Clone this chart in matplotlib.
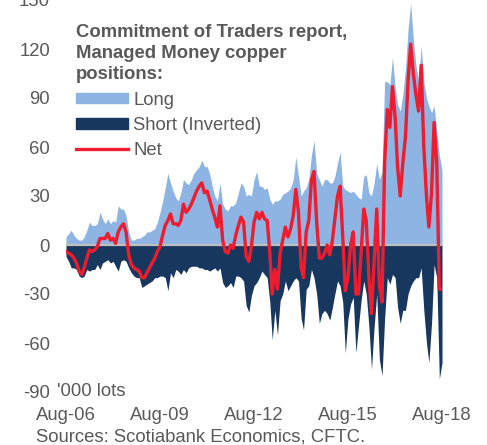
import numpy as np
import pandas as pd
import matplotlib
matplotlib.use('Agg')
from matplotlib import pyplot as plt
from matplotlib import dates as mdates
from matplotlib.patches import Patch
from matplotlib.lines import Line2D
from matplotlib.transforms import blended_transform_factory

# managed money copper positions, '000 lots, monthly Aug-06 .. Aug-18
months = pd.date_range('2006-08-01', '2018-08-01', freq='MS')

long_pos = [
    5, 7, 9, 6, 4, 3, 3, 5, 9, 14,
    12, 12, 13, 20, 16, 13, 16, 13, 15, 14,
    24, 22, 22, 18, 8, 3, 3, 4, 4, 5,
    6, 8, 8, 9, 10, 14, 20, 27, 35, 44,
    38, 33, 29, 27, 32, 40, 38, 37, 40, 44,
    46, 48, 52, 48, 48, 44, 36, 30, 27, 38,
    25, 22, 21, 24, 24, 26, 32, 38, 36, 30,
    31, 30, 40, 45, 36, 36, 34, 35, 28, 25,
    27, 27, 28, 31, 32, 33, 35, 40, 54, 42,
    30, 33, 35, 40, 55, 64, 44, 40, 36, 40,
    40, 38, 38, 42, 50, 57, 36, 34, 33, 32,
    33, 31, 29, 28, 42, 43, 32, 30, 38, 50,
    40, 45, 100, 100, 98, 115, 96, 86, 82, 92,
    108, 132, 148, 126, 110, 100, 122, 100, 90, 85,
    81, 85, 70, 55, 46,
]

short_pos = [
    -7, -10, -14, -14, -15, -19, -20, -19, -15, -16,
    -15, -15, -12, -15, -11, -10, -9, -11, -10, -13,
    -16, -10, -9, -10, -14, -17, -19, -20, -20, -26,
    -25, -24, -23, -22, -20, -20, -19, -19, -20, -28,
    -17, -20, -15, -16, -18, -15, -17, -14, -13, -13,
    -13, -14, -14, -15, -15, -16, -15, -14, -16, -14,
    -23, -26, -25, -23, -26, -19, -19, -20, -22, -37,
    -41, -31, -25, -23, -20, -16, -18, -20, -35, -58,
    -40, -55, -34, -30, -22, -28, -25, -22, -20, -22,
    -45, -52, -27, -25, -15, -20, -30, -48, -42, -40,
    -42, -46, -38, -30, -22, -25, -35, -66, -45, -36,
    -32, -66, -50, -34, -22, -30, -50, -76, -50, -30,
    -70, -80, -45, -20, -24, -18, -20, -38, -48, -40,
    -40, -30, -25, -22, -20, -20, -14, -40, -60, -72,
    -48, -12, -20, -82, -72,
]

net_pos = [
    -4, -5, -6, -8, -11, -16, -18, -14, -8, -3,
    -4, -3, -1, 4, 4, 4, 7, 3, 4, 1,
    8, 11, 13, 8, -6, -12, -14, -15, -16, -20,
    -20, -17, -14, -11, -8, -4, -1, 6, 12, 15,
    19, 13, 13, 12, 15, 25, 20, 22, 25, 29,
    33, 36, 38, 32, 33, 28, 22, 17, 11, 24,
    3, -4, -5, 0, -2, 6, 12, 17, 14, -7,
    -10, -1, 14, 20, 16, 20, 16, 15, -5, -30,
    -15, -27, -5, 3, 11, 5, 10, 18, 34, 20,
    -14, -20, 8, 15, 40, 45, 14, -8, -8, -5,
    0, -6, 3, 16, 30, 36, 5, -28, -20, 0,
    8, -30, -30, -5, 22, 15, -20, -42, -10, 22,
    -25, -35, 50, 83, 72, 97, 78, 48, 30, 50,
    66, 100, 123, 105, 92, 82, 110, 60, 30, 11,
    32, 75, 50, -27, -27,
]

ytick_vals = [-90, -60, -30, 0, 30, 60, 90, 120, 150]
xtick_years = [2006, 2009, 2012, 2015, 2018]

LONG_C = '#8DB4E2'
SHORT_C = '#17375E'
NET_C = '#ED1C2E'
TXT_C = '#595959'
FS = 13.3

plt.rcParams['font.family'] = ['Liberation Sans', 'DejaVu Sans']
plt.rcParams['axes.unicode_minus'] = False

fig = plt.figure(figsize=(4.87, 4.45), dpi=100)
ax = fig.add_axes([66 / 487, 53 / 445, 376 / 487, 392 / 445])

ax.fill_between(months, 0, long_pos, color=LONG_C, linewidth=0)
ax.fill_between(months, short_pos, 0, color=SHORT_C, linewidth=0)
ax.plot(months[[0, -1]], [0, 0], color='#BFBFBF', linewidth=1.6)
ax.plot(months, net_pos, color=NET_C, linewidth=2.4)

ax.set_xlim(months[0], months[-1])
ax.set_ylim(-90, 150)
ax.set_yticks(ytick_vals)
ax.set_xticks([pd.Timestamp(y, 8, 1) for y in xtick_years])
ax.xaxis.set_major_formatter(mdates.DateFormatter('%b-%y'))
for s in ax.spines.values():
    s.set_visible(False)
ax.tick_params(axis='both', length=0, labelsize=FS, labelcolor=TXT_C)
ax.tick_params(axis='y', pad=11.5)
ax.tick_params(axis='x', pad=11)

tr = blended_transform_factory(ax.transAxes, ax.transData)
ax.text(-0.024, -90, "'000 lots", transform=tr, ha='left', va='center',
        fontsize=FS, color=TXT_C)

fig.text(36 / 487, 1 - 437 / 445, 'Sources: Scotiabank Economics, CFTC.',
         ha='left', va='center', fontsize=FS, color=TXT_C)

handles = [Patch(color=LONG_C), Patch(color=SHORT_C),
           Line2D([], [], color=NET_C, linewidth=2.4)]
leg = ax.legend(handles, ['Long', 'Short (Inverted)', 'Net'],
                title='Commitment of Traders report,\nManaged Money copper\npositions:',
                title_fontproperties={'weight': 'bold', 'size': FS},
                alignment='left', loc='upper left',
                bbox_to_anchor=(76 / 487, 1 - 24 / 445), bbox_transform=fig.transFigure,
                frameon=False, borderpad=0, borderaxespad=0,
                fontsize=FS, handlelength=2.8, handleheight=0.5,
                handletextpad=0.3, labelspacing=0.45)
leg.get_title().set_color(TXT_C)
leg.get_title().set_linespacing(1.32)
for t in leg.get_texts():
    t.set_color(TXT_C)

fig.savefig('out.png', dpi=100)
